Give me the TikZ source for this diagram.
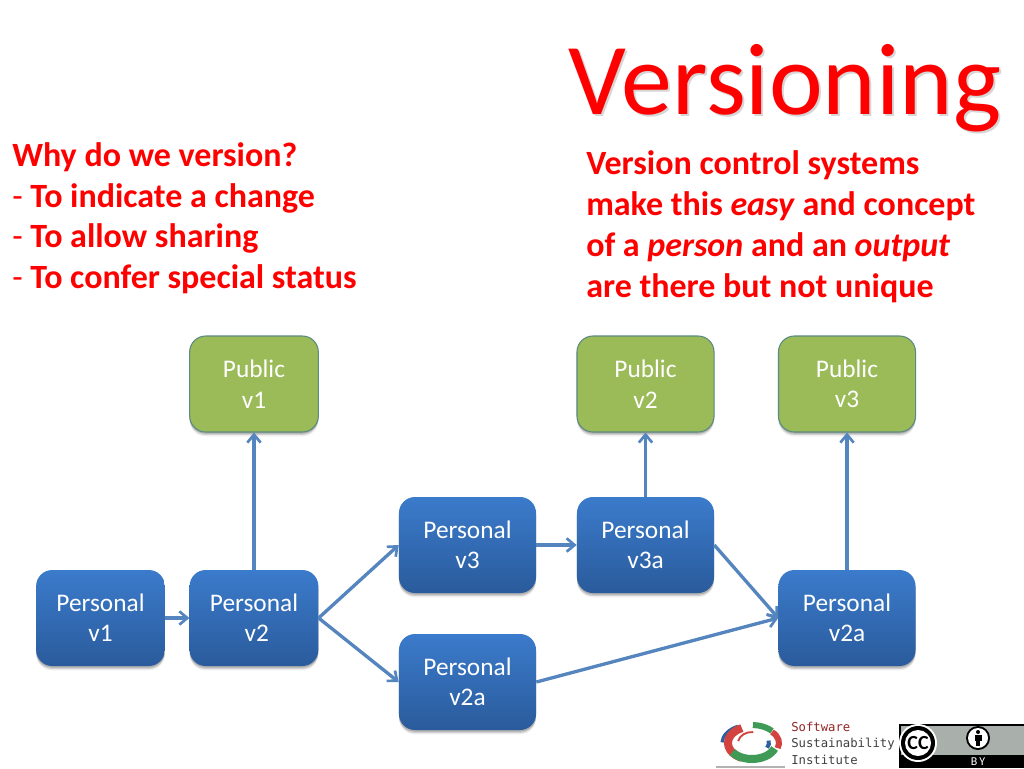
\documentclass[tikz,border=0pt]{standalone}
\usepackage{fontspec}
\setmainfont{Carlito}
\newfontfamily\logomono{DejaVu Sans Mono}
\usetikzlibrary{arrows.meta,shadows}
\definecolor{titlered}{HTML}{FF0000}
\definecolor{boxtop}{HTML}{3B7BCB}
\definecolor{boxbot}{HTML}{2A5B9C}
\definecolor{boxgreen}{HTML}{9BBB59}
\definecolor{boxline}{HTML}{5A8A82}
\definecolor{conn}{HTML}{5585BE}
\definecolor{logored}{HTML}{D2423E}
\definecolor{logogreen}{HTML}{3F9A55}
\definecolor{logoblue}{HTML}{2F5FA0}
\definecolor{badgegray}{HTML}{A9B0AB}
\newcommand{\logoarc}[6]{\draw[line width=#5,color=#6,line cap=butt] ({cos(-(#1))*#3},{sin(-(#1))*#4}) arc[start angle=-(#1),end angle=-(#2),x radius=#3,y radius=#4];}
\tikzset{x=0.75pt,y=-0.75pt,
 softshadow/.style={drop shadow={shadow xshift=0pt,shadow yshift=-3.2pt,opacity=.07,fill=black},
   drop shadow={shadow xshift=0pt,shadow yshift=-2.2pt,opacity=.12,fill=black},
   drop shadow={shadow xshift=0pt,shadow yshift=-1.2pt,opacity=.16,fill=black}},
 nbox/.style={rounded corners=12pt,minimum height=72pt,inner sep=0pt,align=center,text=white,
   font=\fontsize{19}{22.5}\selectfont,softshadow},
 personal/.style={nbox,top color=boxtop,bottom color=boxbot,draw=none},
 public/.style={nbox,fill=boxgreen,draw=boxline,line width=.8pt},
 w96/.style={minimum width=96.5pt},
 w103/.style={minimum width=102.8pt},
 link/.style={draw=conn,line width=2.5pt,-{Straight Barb[length=6pt,width=10pt,line width=2pt]}},
 bodytext/.style={anchor=north west,inner sep=0pt,align=left,text=titlered,
   font=\fontsize{25.5}{30.7}\selectfont\bfseries},
 logotext/.style={anchor=base west,inner sep=0pt,font=\logomono\fontsize{9.2}{11}\selectfont}}
\begin{document}
\begin{tikzpicture}
\useasboundingbox (0,0) rectangle (1024,768);
\fill[white] (0,0) rectangle (1024,768);
% title
\node[anchor=base west,inner sep=0pt,text=black,opacity=.16,font=\fontsize{76.4}{80}\selectfont] (titleshadow) at (570.5,116.5) {Versioning};
\node[anchor=base west,inner sep=0pt,text=titlered,font=\fontsize{76.4}{80}\selectfont] (title) at (568.5,114.5) {Versioning};
% texts
\node[bodytext] (why) at (12,142) {Why do we version?\\{\mdseries -} To indicate a change\\{\mdseries -} To allow sharing\\{\mdseries -} To confer special status};
\node[bodytext] (vcs) at (586,150.5) {Version control systems\\make this \textit{easy} and concept\\of a \textit{person} and an \textit{output}\\are there but not unique};
% boxes
\node[public,w96] (pub1) at (254,384) {\raisebox{-.6pt}{Public}\\\raisebox{-1pt}{v1}};
\node[public,w103] (pub2) at (645.5,384) {\raisebox{-.6pt}{Public}\\\raisebox{-1pt}{v2}};
\node[public,w103] (pub3) at (847,384) {\raisebox{-.6pt}{Public}\\\raisebox{-1pt}{v3}};
\node[personal,w96] (p1) at (100.5,618) {Personal\\v1};
\node[personal,w96] (p2) at (254,618) {Personal\\\ v2};
\node[personal,w103] (p3) at (467.5,545) {Personal\\v3};
\node[personal,w103] (p3a) at (645.5,545) {Personal\\v3a};
\node[personal,w103] (p2a) at (467.5,682) {Personal\\v2a};
\node[personal,w103] (p2b) at (847,618) {Personal\\v2a};
% connectors
\draw[link] (p1.east) -- (p2.west);
\draw[link] (p2.north) -- (pub1.south);
\draw[link] (p2.east) -- (p3.west);
\draw[link] (p2.east) -- (p2a.west);
\draw[link] (p3.east) -- (p3a.west);
\draw[link] (p3a.north) -- (pub2.south);
\draw[link] (p3a.east) -- (p2b.west);
\draw[link] (p2a.east) -- (p2b.west);
\draw[link] (p2b.north) -- (pub3.south);
% logo
\fill[black!30] (716,766) rectangle (785,768);
\begin{scope}[shift={(752,743)}]
\logoarc{118}{178}{30}{19}{2.4pt}{logoblue}
\logoarc{115}{245}{24}{16.5}{6pt}{logored}
\logoarc{215}{340}{24}{16}{6pt}{logogreen}
\logoarc{42}{88}{27}{18}{4.5pt}{logogreen}
\logoarc{-18}{42}{27}{16.5}{4.5pt}{logored}
\logoarc{-28}{14}{17}{10}{3pt}{logoblue}
\logoarc{85}{170}{14}{11}{1.4pt}{logored}
\end{scope}
\node[logotext,text=red!50!black!85] (sw) at (791,731) {Software};
\node[logotext,text=black!75] (su) at (791,747) {Sustainability};
\node[logotext,text=black!75] (in) at (791,764) {Institute};
% licence badge
\fill[black] (899,724) rectangle (1024,768);
\fill[badgegray] (900.5,725.5) rectangle (1024,755);
\fill[white] (918,743) circle[radius=19];
\fill[black] (918,743) circle[radius=17];
\fill[white] (918,743) circle[radius=13];
\node[inner sep=0pt,font=\fontsize{15}{15}\selectfont\bfseries] (cc) at (918,742.5) {CC};
\fill[black] (978,738) circle[radius=12];
\fill[white] (978,738) circle[radius=10];
\fill[black] (978,732) circle[radius=2];
\fill[black] (974.5,735) rectangle (981.5,740.5);
\fill[black] (976,740.5) rectangle (980,746);
\node[inner sep=0pt,text=white,font=\fontsize{9}{9}\selectfont] (by) at (978,761.5) {B\,Y};
\end{tikzpicture}
\end{document}
